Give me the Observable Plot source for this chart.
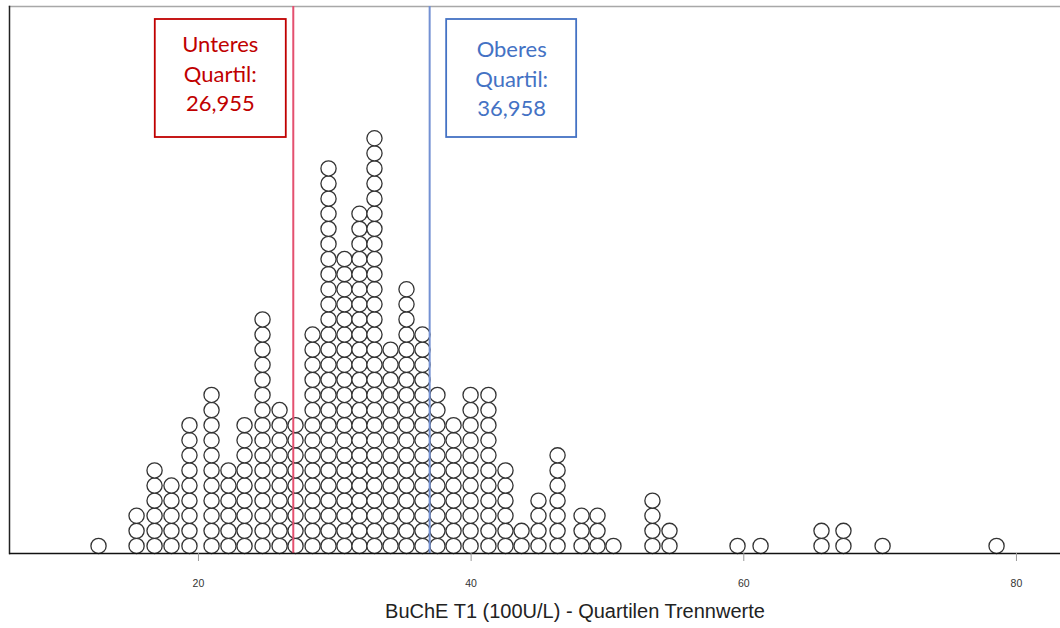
<!DOCTYPE html>
<html>
<head>
<meta charset="utf-8">
<script src="https://cdn.jsdelivr.net/npm/d3@7"></script>
<script src="https://cdn.jsdelivr.net/npm/@observablehq/plot@0.6"></script>
<style>
  html, body { margin: 0; padding: 0; background: #fff; }
  #chart svg { display: block; }
</style>
</head>
<body>
<div id="chart"></div>
<script>
// Bin centres of the dot plot (BuChE T1, 100 U/L) and the number of cases stacked in each bin
const binCenters = [
  12.67, 15.46, 16.78, 18.02, 19.34, 20.96, 22.20, 23.38, 24.70, 25.95,
  27.12, 28.37, 29.54, 30.71, 31.81, 32.91, 34.09, 35.26, 36.43, 37.53,
  38.71, 39.96, 41.27, 42.52, 43.70, 44.94, 46.34, 48.10, 49.27, 50.44,
  53.30, 54.55, 59.54, 61.23, 65.70, 67.31, 70.18, 78.54
];
const binCounts = [
  1, 3, 6, 5, 9, 11, 6, 9, 16, 10,
  9, 15, 26, 20, 23, 28, 14, 18, 15, 11,
  9, 11, 11, 6, 2, 4, 7, 3, 3, 1,
  4, 2, 1, 1, 2, 2, 1, 1
];
const tickValues = [20, 40, 60, 80];

// Quartile cut-offs
const quartileNames = ["Unteres", "Oberes"];
const quartileValues = [26.955, 36.958];
const quartileTexts = ["26,955", "36,958"];
const axisTitle = "BuChE T1 (100U/L) - Quartilen Trennwerte";

// Presentation settings
const lineColors = ["#e4506f", "#7391d3"];
const boxColors = ["#c00000", "#4472c4"];
const boxSpans = [[-138, -7], [17, 147]];     // box edges relative to the quartile line, px
const textShift = [-73, 82];                  // label centre relative to the quartile line, px
const textDrop = [25, 30];                    // label offset below the frame top, px
const boxTop = 13, boxBottom = 131;           // box edges below the frame top, px

const W = 1060, H = 628;
const marginTop = 6, marginBottom = 75, marginLeft = 9, marginRight = 0;
const pitch = 15.1; // vertical distance between stacked dots, px
const yMax = (H - marginTop - marginBottom) / pitch;

// one record per case, stacked upwards in its bin
const dots = binCenters.flatMap((x, i) =>
  d3.range(binCounts[i]).map(k => ({x, level: k + 0.5}))
);

const quartiles = quartileValues.map((value, i) => ({
  value,
  text: `${quartileNames[i]}\nQuartil:\n${quartileTexts[i]}`,
  line: lineColors[i],
  color: boxColors[i],
  span: boxSpans[i],
  dx: textShift[i],
  dy: textDrop[i]
}));

// outlined boxes around the quartile annotations, anchored to the x scale
function quartileBoxes(index, scales, values, dims) {
  const g = d3.create("svg:g");
  for (const q of quartiles) {
    const cx = scales.x(q.value);
    g.append("rect")
      .attr("x", cx + q.span[0])
      .attr("y", dims.marginTop + boxTop)
      .attr("width", q.span[1] - q.span[0])
      .attr("height", boxBottom - boxTop)
      .attr("fill", "white")
      .attr("stroke", q.color)
      .attr("stroke-width", 1.8);
  }
  return g.node();
}

// one text mark per quartile so each can carry its own pixel offsets
const quartileTextMarks = quartiles.map(q =>
  Plot.text([q], {
    x: "value", frameAnchor: "top", lineAnchor: "top",
    text: "text", dx: q.dx, dy: q.dy,
    fill: q.color, fontSize: 22, lineHeight: 1.34,
    fontFamily: "Lato, 'Open Sans', sans-serif"
  })
);

const chart = Plot.plot({
  width: W,
  height: H,
  marginTop, marginBottom, marginLeft, marginRight,
  style: {background: "#fff", fontFamily: "Liberation Sans, Arial, sans-serif"},
  x: {domain: [6.14, 83.23]},
  y: {domain: [0, yMax], axis: null},
  marks: [
    Plot.frame({anchor: "top", stroke: "#a8a8a8", strokeWidth: 1.5}),
    Plot.frame({anchor: "left", stroke: "#222", strokeWidth: 1.5}),
    Plot.dot(dots, {x: "x", y: "level", r: 7.6, fill: "white", stroke: "#333", strokeWidth: 1.3}),
    Plot.ruleX(quartiles, {x: "value", stroke: "line", strokeWidth: 2}),
    quartileBoxes,
    ...quartileTextMarks,
    Plot.ruleY([0], {stroke: "#111", strokeWidth: 1.5}),
    Plot.axisX({
      ticks: tickValues, tickSize: 8, tickPadding: 18,
      stroke: "#999", fill: "#333", fontSize: 10.5,
      fontFamily: "'Liberation Sans Narrow', 'Liberation Sans', Arial, sans-serif",
      label: null
    }),
    Plot.text([axisTitle], {
      frameAnchor: "bottom", dy: 64, dx: 40,
      fontSize: 20, fill: "#222",
      fontFamily: "Liberation Sans, Arial, sans-serif"
    })
  ]
});

document.getElementById("chart").append(chart);
</script>
</body>
</html>
